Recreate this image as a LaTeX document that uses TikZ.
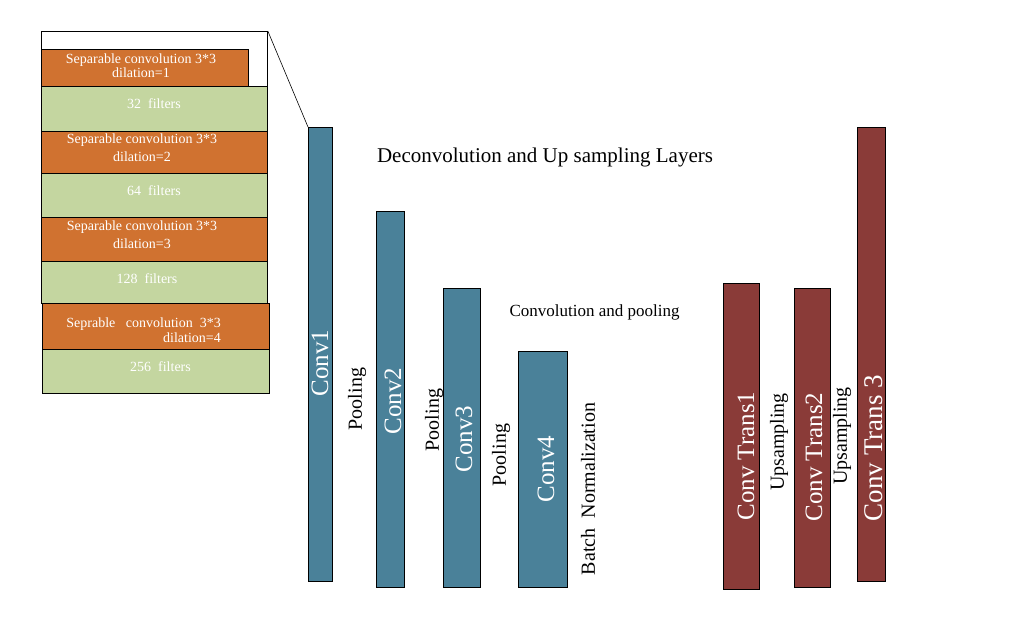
\documentclass[tikz,border=0pt]{standalone}
\usepackage{fontspec}
\setmainfont{Liberation Serif}
\definecolor{orangeL}{RGB}{208,114,48}
\definecolor{vertL}{RGB}{196,214,160}
\definecolor{bleuC}{RGB}{74,129,153}
\definecolor{rougeT}{RGB}{138,59,56}
\tikzset{
  couche/.style={draw=black, line width=0.8pt, inner sep=0pt, anchor=north west},
  petit/.style={text=white, font=\fontsize{14}{14}\selectfont, align=center, inner sep=0pt},
  grand/.style={text=white, font=\fontsize{25}{25}\selectfont, rotate=90, inner sep=0pt},
  etiq/.style={font=\fontsize{20}{20}\selectfont, rotate=90, inner sep=0pt}
}
\begin{document}
\begin{tikzpicture}[x=1pt, y=1pt]
    \useasboundingbox (0,0) rectangle (1012,-642);

    % Le cadre agrandi
    \node[draw=black, line width=0.8pt, fill=white, inner sep=0pt, anchor=north west,
          minimum width=226pt, minimum height=272pt] (cadre) at (41,-31) {};

    % Les couches du bloc
    \node[couche, fill=orangeL, minimum width=207pt, minimum height=37pt] (sep1) at (41,-49) {};
    \node[couche, fill=vertL, minimum width=226pt, minimum height=45pt] (f1) at (41,-86) {};
    \node[couche, fill=orangeL, minimum width=226pt, minimum height=42pt] (sep2) at (41,-131) {};
    \node[couche, fill=vertL, minimum width=226pt, minimum height=44pt] (f2) at (41,-173) {};
    \node[couche, fill=orangeL, minimum width=226pt, minimum height=44pt] (sep3) at (41,-217) {};
    \node[couche, fill=vertL, minimum width=226pt, minimum height=42pt] (f3) at (41,-261) {};
    \node[couche, fill=orangeL, minimum width=227pt, minimum height=46pt] (sep4) at (41.5,-303) {};
    \node[couche, fill=vertL, minimum width=227pt, minimum height=44pt] (f4) at (41.5,-349) {};

    % Les textes du bloc
    \node[petit] (tsep1) at (141,-66) {Separable convolution 3*3\\dilation=1};
    \node[petit] (tf1) at (154,-104) {32~ filters};
    \node[petit, font=\fontsize{14}{17.7}\selectfont] (tsep2) at (142,-148) {Separable convolution 3*3\\dilation=2};
    \node[petit] (tf2) at (154,-191) {64~ filters};
    \node[petit, font=\fontsize{14}{18}\selectfont] (tsep3) at (142,-235) {Separable convolution 3*3\\dilation=3};
    \node[petit] (tf3) at (147,-279) {128~ filters};
    \node[petit, align=right, anchor=east, font=\fontsize{14}{15}\selectfont] (tsep4) at (221,-330) {Seprable~~ convolution~ 3*3\\dilation=4};
    \node[petit] (tf4) at (160.5,-367) {256~ filters};

    % Les convolutions
    \node[couche, fill=bleuC, minimum width=24pt, minimum height=454pt] (conv1) at (308,-127) {};
    \node[couche, fill=bleuC, minimum width=28pt, minimum height=376pt] (conv2) at (376,-211) {};
    \node[couche, fill=bleuC, minimum width=37pt, minimum height=299pt] (conv3) at (443,-288) {};
    \node[couche, fill=bleuC, minimum width=49pt, minimum height=236pt] (conv4) at (518,-351) {};

    % Les convolutions transposees
    \node[couche, fill=rougeT, minimum width=36pt, minimum height=306pt] (trans1) at (723,-283) {};
    \node[couche, fill=rougeT, minimum width=36pt, minimum height=299pt] (trans2) at (794,-288) {};
    \node[couche, fill=rougeT, minimum width=28pt, minimum height=454pt] (trans3) at (857,-127) {};

    % Ligne de zoom
    \draw[line width=0.6pt] (cadre.north east) -- (conv1.north west);

    % Les noms
    \node[grand] (nconv1) at (320,-363) {Conv1};
    \node[grand] (nconv2) at (393,-401) {Conv2};
    \node[grand] (nconv3) at (464,-439) {Conv3};
    \node[grand] (nconv4) at (546,-469) {Conv4};
    \node[grand] (ntrans1) at (746,-456) {Conv Trans1};
    \node[grand] (ntrans2) at (814,-457) {Conv Trans2};
    \node[grand, font=\fontsize{27}{27}\selectfont] (ntrans3) at (874,-448) {Conv Trans 3};

    % Les operations
    \node[etiq] (pool1) at (357,-399) {Pooling};
    \node[etiq] (pool2) at (434,-420) {Pooling};
    \node[etiq] (pool3) at (501,-455) {Pooling};
    \node[etiq] (bn) at (588,-489) {Batch~ Normalization};
    \node[etiq] (up1) at (779,-442) {Upsampling};
    \node[etiq] (up2) at (842,-436) {Upsampling};

    % Les titres
    \node[font=\fontsize{21}{21}\selectfont, inner sep=0pt] (titre) at (545,-157) {Deconvolution and Up sampling Layers};
    \node[font=\fontsize{17}{17}\selectfont, inner sep=0pt] (soustitre) at (594.5,-312) {Convolution and pooling};

\end{tikzpicture}
\end{document}
